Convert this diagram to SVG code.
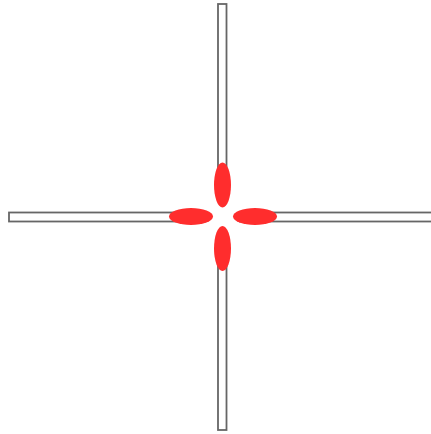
<svg xmlns="http://www.w3.org/2000/svg" width="431" height="434" viewBox="0 0 431 434">
<style>
.bar{fill:#fff;stroke:#666;stroke-width:1.8}
.petal{fill:#ff2d2d}
</style>
<rect width="431" height="434" fill="#fff"/>
<g id="bars">
<rect id="vbar" class="bar" x="218" y="4" width="8.5" height="426"/>
<rect id="hbar" class="bar" x="9" y="212.5" width="430" height="9"/>
<rect id="hub" x="206" y="200" width="33" height="33" fill="#fff"/>
</g>
<g id="petals">
<ellipse id="top" class="petal" cx="222.5" cy="185" rx="8.5" ry="22.5"/>
<ellipse id="bottom" class="petal" cx="222.5" cy="248.5" rx="8.5" ry="22.5"/>
<ellipse id="left" class="petal" cx="191" cy="216.5" rx="22" ry="8.5"/>
<ellipse id="right" class="petal" cx="255" cy="216.5" rx="22" ry="8.5"/>
</g>
</svg>
